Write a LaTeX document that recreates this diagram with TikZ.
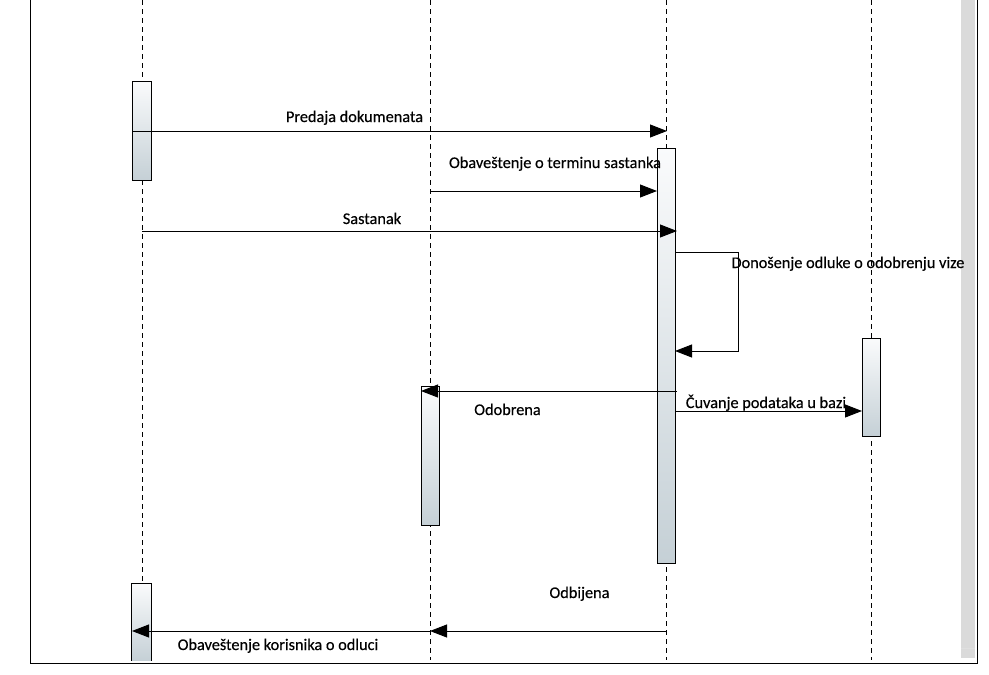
\documentclass[tikz,border=0pt]{standalone}
\usepackage{fontspec}
\setmainfont{Carlito}
\newfontfamily\lblfont{Carlito}[FakeBold=0.35]
\usetikzlibrary{arrows.meta}
\definecolor{actbot}{RGB}{197,208,214}
\definecolor{actTop}{RGB}{250,251,252}
\definecolor{stripgray}{RGB}{218,218,218}
\tikzset{
  lifeline/.style={line width=0.9pt, dash pattern=on 5pt off 4pt},
  actbox/.style={draw, line width=0.9pt, inner sep=0pt, minimum width=18pt, top color=actTop, bottom color=actbot},
  msg/.style={line width=0.9pt, -{Triangle[length=17pt,width=13pt]}},
  lbl/.style={font=\lblfont\fontsize{16.3}{18}\selectfont, anchor=base, inner sep=0pt},
}
\begin{document}
\begin{tikzpicture}[x=1pt,y=-1pt]
\useasboundingbox (0,0) rectangle (989,675);
% frame
\fill[stripgray] (961,0) rectangle (975,658);
\draw[gray!25, line width=0.8pt] (961,648) -- (975,648);
\draw[line width=0.9pt] (30,0) -- (30,663) -- (977,663) -- (977,0);
% lifelines
\coordinate (l1t) at (142,0); \coordinate (l1b) at (142,660);
\coordinate (l2t) at (430,0); \coordinate (l2b) at (430,660);
\coordinate (l3t) at (666,0); \coordinate (l3b) at (666,660);
\coordinate (l4t) at (871,0); \coordinate (l4b) at (871,660);
\draw[lifeline] (l1t) -- (l1b);
\draw[lifeline] (l2t) -- (l2b);
\draw[lifeline] (l3t) -- (l3b);
\draw[lifeline] (l4t) -- (l4b);
% activation boxes
\node[actbox, minimum width=19pt, minimum height=99pt] (a1) at (141.5,130.5) {};
\node[actbox, draw=none, minimum width=19pt, minimum height=77pt] (a1b) at (141.5,622) {};
\draw[line width=0.9pt] (a1b.south west) |- (a1b.north east) -- (a1b.south east);
\node[actbox, minimum height=139pt] (a2) at (430,455.5) {};
\node[actbox, minimum height=415pt] (a3) at (666,355.5) {};
\node[actbox, minimum height=98pt] (a4) at (871,387) {};
% message endpoints
\coordinate (m1s) at (132,131); \coordinate (m1e) at (667,131);
\coordinate (m2s) at (430,191); \coordinate (m2e) at (657,191);
\coordinate (m3s) at (142,231); \coordinate (m3e) at (677,231);
\coordinate (m4s) at (675,252); \coordinate (m4a) at (738,252); \coordinate (m4b) at (738,351); \coordinate (m4e) at (675,351);
\coordinate (m5s) at (677,391); \coordinate (m5e) at (421,391);
\coordinate (m6s) at (675,411); \coordinate (m6e) at (862,411);
\coordinate (m7s) at (666,631); \coordinate (m7e) at (430,631);
\coordinate (m8s) at (430,631); \coordinate (m8e) at (132,631);
\draw[msg] (m1s) -- (m1e);
\draw[msg] (m2s) -- (m2e);
\draw[msg] (m3s) -- (m3e);
\draw[msg] (m4s) -- (m4a) -- (m4b) -- (m4e);
\draw[msg] (m5s) -- (m5e);
\draw[msg] (m6s) -- (m6e);
\draw[msg] (m7s) -- (m7e);
\draw[msg] (m8s) -- (m8e);
% labels
\node[lbl] (t1) at (354.5,122) {Predaja dokumenata};
\node[lbl] (t2) at (555,168) {Obaveštenje o terminu sastanka};
\node[lbl] (t3) at (372,224) {Sastanak};
\node[lbl] (t4) at (848,268) {Donošenje odluke o odobrenju vize};
\node[lbl] (t5) at (507.5,415) {Odobrena};
\node[lbl] (t6) at (766,408) {Čuvanje podataka u bazi};
\node[lbl] (t7) at (579.5,598) {Odbijena};
\node[lbl] (t8) at (278,650) {Obaveštenje korisnika o odluci};
\end{tikzpicture}
\end{document}
